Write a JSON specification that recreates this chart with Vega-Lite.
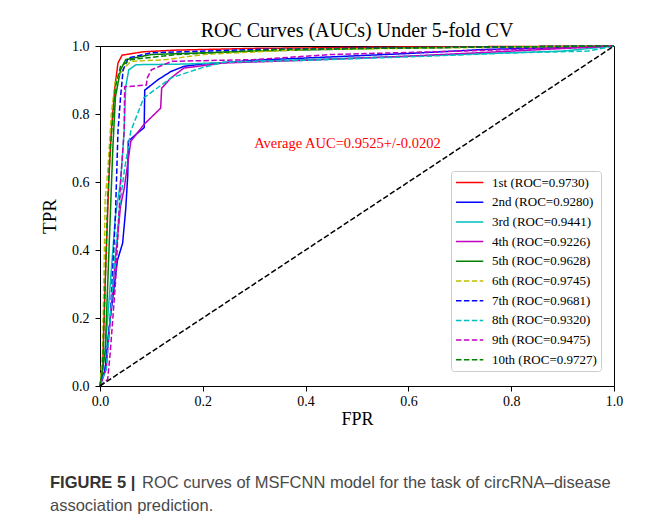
{
  "$schema": "https://vega.github.io/schema/vega-lite/v6.json",
  "padding": {"left": 40, "top": 20, "right": 5, "bottom": 5},
  "background": "white",
  "config": {
    "view": {"stroke": "black", "strokeWidth": 1},
    "font": "Liberation Serif",
    "axis": {"labelFont": "Liberation Serif", "labelFontSize": 14, "labelColor": "black", "titleFont": "Liberation Serif", "titleFontSize": 18, "titleFontWeight": "normal", "titleColor": "black", "domainColor": "black", "tickColor": "black", "grid": false, "tickSize": 5, "labelFlush": false, "labelOverlap": false},
    "legend": {"labelFont": "Liberation Serif", "labelFontSize": 13, "labelColor": "black", "symbolType": "M-1,0H3.2", "symbolSize": 169, "symbolStrokeWidth": 1.5, "labelOffset": 22, "rowPadding": 4.7, "padding": 4, "strokeColor": "#cccccc", "fillColor": "rgba(255,255,255,0.85)", "cornerRadius": 3, "labelLimit": 0}
  },
  "vconcat": [
    {
      "width": 514,
      "height": 340,
      "title": {"text": "ROC Curves (AUCs) Under 5-fold CV", "font": "Liberation Serif", "fontSize": 20, "fontWeight": "normal", "color": "black", "anchor": "middle", "baseline": "alphabetic", "offset": -18},
      "layer": [
        {
          "data": {"values": [
            {"c": "1st (ROC=0.9730)", "i": 0, "x": 0, "y": 0},
            {"c": "1st (ROC=0.9730)", "i": 1, "x": 0.005, "y": 0.05},
            {"c": "1st (ROC=0.9730)", "i": 2, "x": 0.01, "y": 0.3},
            {"c": "1st (ROC=0.9730)", "i": 3, "x": 0.017, "y": 0.6},
            {"c": "1st (ROC=0.9730)", "i": 4, "x": 0.022, "y": 0.75},
            {"c": "1st (ROC=0.9730)", "i": 5, "x": 0.029, "y": 0.88},
            {"c": "1st (ROC=0.9730)", "i": 6, "x": 0.035, "y": 0.95},
            {"c": "1st (ROC=0.9730)", "i": 7, "x": 0.043, "y": 0.973},
            {"c": "1st (ROC=0.9730)", "i": 8, "x": 0.084, "y": 0.983},
            {"c": "1st (ROC=0.9730)", "i": 9, "x": 0.15, "y": 0.988},
            {"c": "1st (ROC=0.9730)", "i": 10, "x": 0.3, "y": 0.993},
            {"c": "1st (ROC=0.9730)", "i": 11, "x": 0.6, "y": 0.997},
            {"c": "1st (ROC=0.9730)", "i": 12, "x": 1, "y": 1},

            {"c": "2nd (ROC=0.9280)", "i": 0, "x": 0, "y": 0},
            {"c": "2nd (ROC=0.9280)", "i": 1, "x": 0.01, "y": 0.05},
            {"c": "2nd (ROC=0.9280)", "i": 2, "x": 0.02, "y": 0.2},
            {"c": "2nd (ROC=0.9280)", "i": 3, "x": 0.034, "y": 0.37},
            {"c": "2nd (ROC=0.9280)", "i": 4, "x": 0.044, "y": 0.42},
            {"c": "2nd (ROC=0.9280)", "i": 5, "x": 0.05, "y": 0.52},
            {"c": "2nd (ROC=0.9280)", "i": 6, "x": 0.054, "y": 0.62},
            {"c": "2nd (ROC=0.9280)", "i": 7, "x": 0.055, "y": 0.72},
            {"c": "2nd (ROC=0.9280)", "i": 8, "x": 0.07, "y": 0.74},
            {"c": "2nd (ROC=0.9280)", "i": 9, "x": 0.086, "y": 0.76},
            {"c": "2nd (ROC=0.9280)", "i": 10, "x": 0.087, "y": 0.87},
            {"c": "2nd (ROC=0.9280)", "i": 11, "x": 0.112, "y": 0.9},
            {"c": "2nd (ROC=0.9280)", "i": 12, "x": 0.138, "y": 0.925},
            {"c": "2nd (ROC=0.9280)", "i": 13, "x": 0.163, "y": 0.94},
            {"c": "2nd (ROC=0.9280)", "i": 14, "x": 0.2, "y": 0.947},
            {"c": "2nd (ROC=0.9280)", "i": 15, "x": 0.3, "y": 0.958},
            {"c": "2nd (ROC=0.9280)", "i": 16, "x": 0.45, "y": 0.968},
            {"c": "2nd (ROC=0.9280)", "i": 17, "x": 0.6, "y": 0.978},
            {"c": "2nd (ROC=0.9280)", "i": 18, "x": 0.75, "y": 0.99},
            {"c": "2nd (ROC=0.9280)", "i": 19, "x": 0.9, "y": 0.995},
            {"c": "2nd (ROC=0.9280)", "i": 20, "x": 1, "y": 1},

            {"c": "3rd (ROC=0.9441)", "i": 0, "x": 0, "y": 0},
            {"c": "3rd (ROC=0.9441)", "i": 1, "x": 0.01, "y": 0.1},
            {"c": "3rd (ROC=0.9441)", "i": 2, "x": 0.02, "y": 0.3},
            {"c": "3rd (ROC=0.9441)", "i": 3, "x": 0.03, "y": 0.5},
            {"c": "3rd (ROC=0.9441)", "i": 4, "x": 0.04, "y": 0.6},
            {"c": "3rd (ROC=0.9441)", "i": 5, "x": 0.047, "y": 0.75},
            {"c": "3rd (ROC=0.9441)", "i": 6, "x": 0.05, "y": 0.88},
            {"c": "3rd (ROC=0.9441)", "i": 7, "x": 0.056, "y": 0.93},
            {"c": "3rd (ROC=0.9441)", "i": 8, "x": 0.07, "y": 0.945},
            {"c": "3rd (ROC=0.9441)", "i": 9, "x": 0.17, "y": 0.947},
            {"c": "3rd (ROC=0.9441)", "i": 10, "x": 0.3, "y": 0.955},
            {"c": "3rd (ROC=0.9441)", "i": 11, "x": 0.5, "y": 0.965},
            {"c": "3rd (ROC=0.9441)", "i": 12, "x": 0.7, "y": 0.975},
            {"c": "3rd (ROC=0.9441)", "i": 13, "x": 0.9, "y": 0.985},
            {"c": "3rd (ROC=0.9441)", "i": 14, "x": 1, "y": 1},

            {"c": "4th (ROC=0.9226)", "i": 0, "x": 0, "y": 0},
            {"c": "4th (ROC=0.9226)", "i": 1, "x": 0.012, "y": 0.05},
            {"c": "4th (ROC=0.9226)", "i": 2, "x": 0.02, "y": 0.2},
            {"c": "4th (ROC=0.9226)", "i": 3, "x": 0.031, "y": 0.39},
            {"c": "4th (ROC=0.9226)", "i": 4, "x": 0.04, "y": 0.53},
            {"c": "4th (ROC=0.9226)", "i": 5, "x": 0.047, "y": 0.58},
            {"c": "4th (ROC=0.9226)", "i": 6, "x": 0.06, "y": 0.72},
            {"c": "4th (ROC=0.9226)", "i": 7, "x": 0.086, "y": 0.77},
            {"c": "4th (ROC=0.9226)", "i": 8, "x": 0.118, "y": 0.817},
            {"c": "4th (ROC=0.9226)", "i": 9, "x": 0.12, "y": 0.876},
            {"c": "4th (ROC=0.9226)", "i": 10, "x": 0.138, "y": 0.906},
            {"c": "4th (ROC=0.9226)", "i": 11, "x": 0.163, "y": 0.935},
            {"c": "4th (ROC=0.9226)", "i": 12, "x": 0.24, "y": 0.95},
            {"c": "4th (ROC=0.9226)", "i": 13, "x": 0.4, "y": 0.958},
            {"c": "4th (ROC=0.9226)", "i": 14, "x": 0.6, "y": 0.97},
            {"c": "4th (ROC=0.9226)", "i": 15, "x": 0.8, "y": 0.985},
            {"c": "4th (ROC=0.9226)", "i": 16, "x": 1, "y": 1},

            {"c": "5th (ROC=0.9628)", "i": 0, "x": 0, "y": 0},
            {"c": "5th (ROC=0.9628)", "i": 1, "x": 0.01, "y": 0.1},
            {"c": "5th (ROC=0.9628)", "i": 2, "x": 0.015, "y": 0.3},
            {"c": "5th (ROC=0.9628)", "i": 3, "x": 0.02, "y": 0.5},
            {"c": "5th (ROC=0.9628)", "i": 4, "x": 0.025, "y": 0.7},
            {"c": "5th (ROC=0.9628)", "i": 5, "x": 0.03, "y": 0.85},
            {"c": "5th (ROC=0.9628)", "i": 6, "x": 0.04, "y": 0.93},
            {"c": "5th (ROC=0.9628)", "i": 7, "x": 0.05, "y": 0.96},
            {"c": "5th (ROC=0.9628)", "i": 8, "x": 0.1, "y": 0.975},
            {"c": "5th (ROC=0.9628)", "i": 9, "x": 0.3, "y": 0.985},
            {"c": "5th (ROC=0.9628)", "i": 10, "x": 0.6, "y": 0.995},
            {"c": "5th (ROC=0.9628)", "i": 11, "x": 1, "y": 1},

            {"c": "6th (ROC=0.9745)", "i": 0, "x": 0, "y": 0},
            {"c": "6th (ROC=0.9745)", "i": 1, "x": 0.005, "y": 0.1},
            {"c": "6th (ROC=0.9745)", "i": 2, "x": 0.008, "y": 0.35},
            {"c": "6th (ROC=0.9745)", "i": 3, "x": 0.01, "y": 0.55},
            {"c": "6th (ROC=0.9745)", "i": 4, "x": 0.015, "y": 0.63},
            {"c": "6th (ROC=0.9745)", "i": 5, "x": 0.022, "y": 0.8},
            {"c": "6th (ROC=0.9745)", "i": 6, "x": 0.03, "y": 0.9},
            {"c": "6th (ROC=0.9745)", "i": 7, "x": 0.05, "y": 0.94},
            {"c": "6th (ROC=0.9745)", "i": 8, "x": 0.06, "y": 0.955},
            {"c": "6th (ROC=0.9745)", "i": 9, "x": 0.13, "y": 0.96},
            {"c": "6th (ROC=0.9745)", "i": 10, "x": 0.2, "y": 0.975},
            {"c": "6th (ROC=0.9745)", "i": 11, "x": 0.4, "y": 0.99},
            {"c": "6th (ROC=0.9745)", "i": 12, "x": 1, "y": 1},

            {"c": "7th (ROC=0.9681)", "i": 0, "x": 0, "y": 0},
            {"c": "7th (ROC=0.9681)", "i": 1, "x": 0.01, "y": 0.05},
            {"c": "7th (ROC=0.9681)", "i": 2, "x": 0.02, "y": 0.2},
            {"c": "7th (ROC=0.9681)", "i": 3, "x": 0.03, "y": 0.5},
            {"c": "7th (ROC=0.9681)", "i": 4, "x": 0.035, "y": 0.75},
            {"c": "7th (ROC=0.9681)", "i": 5, "x": 0.04, "y": 0.85},
            {"c": "7th (ROC=0.9681)", "i": 6, "x": 0.045, "y": 0.93},
            {"c": "7th (ROC=0.9681)", "i": 7, "x": 0.055, "y": 0.965},
            {"c": "7th (ROC=0.9681)", "i": 8, "x": 0.1, "y": 0.98},
            {"c": "7th (ROC=0.9681)", "i": 9, "x": 0.3, "y": 0.99},
            {"c": "7th (ROC=0.9681)", "i": 10, "x": 0.6, "y": 0.995},
            {"c": "7th (ROC=0.9681)", "i": 11, "x": 1, "y": 1},

            {"c": "8th (ROC=0.9320)", "i": 0, "x": 0, "y": 0},
            {"c": "8th (ROC=0.9320)", "i": 1, "x": 0.012, "y": 0.05},
            {"c": "8th (ROC=0.9320)", "i": 2, "x": 0.02, "y": 0.2},
            {"c": "8th (ROC=0.9320)", "i": 3, "x": 0.03, "y": 0.4},
            {"c": "8th (ROC=0.9320)", "i": 4, "x": 0.04, "y": 0.55},
            {"c": "8th (ROC=0.9320)", "i": 5, "x": 0.047, "y": 0.63},
            {"c": "8th (ROC=0.9320)", "i": 6, "x": 0.06, "y": 0.75},
            {"c": "8th (ROC=0.9320)", "i": 7, "x": 0.085, "y": 0.847},
            {"c": "8th (ROC=0.9320)", "i": 8, "x": 0.138, "y": 0.906},
            {"c": "8th (ROC=0.9320)", "i": 9, "x": 0.196, "y": 0.935},
            {"c": "8th (ROC=0.9320)", "i": 10, "x": 0.24, "y": 0.952},
            {"c": "8th (ROC=0.9320)", "i": 11, "x": 0.4, "y": 0.958},
            {"c": "8th (ROC=0.9320)", "i": 12, "x": 0.6, "y": 0.968},
            {"c": "8th (ROC=0.9320)", "i": 13, "x": 0.8, "y": 0.98},
            {"c": "8th (ROC=0.9320)", "i": 14, "x": 0.95, "y": 0.985},
            {"c": "8th (ROC=0.9320)", "i": 15, "x": 1, "y": 1},

            {"c": "9th (ROC=0.9475)", "i": 0, "x": 0, "y": 0},
            {"c": "9th (ROC=0.9475)", "i": 1, "x": 0.015, "y": 0.02},
            {"c": "9th (ROC=0.9475)", "i": 2, "x": 0.02, "y": 0.1},
            {"c": "9th (ROC=0.9475)", "i": 3, "x": 0.03, "y": 0.3},
            {"c": "9th (ROC=0.9475)", "i": 4, "x": 0.04, "y": 0.6},
            {"c": "9th (ROC=0.9475)", "i": 5, "x": 0.047, "y": 0.75},
            {"c": "9th (ROC=0.9475)", "i": 6, "x": 0.048, "y": 0.88},
            {"c": "9th (ROC=0.9475)", "i": 7, "x": 0.09, "y": 0.885},
            {"c": "9th (ROC=0.9475)", "i": 8, "x": 0.092, "y": 0.906},
            {"c": "9th (ROC=0.9475)", "i": 9, "x": 0.1, "y": 0.93},
            {"c": "9th (ROC=0.9475)", "i": 10, "x": 0.14, "y": 0.955},
            {"c": "9th (ROC=0.9475)", "i": 11, "x": 0.3, "y": 0.96},
            {"c": "9th (ROC=0.9475)", "i": 12, "x": 0.45, "y": 0.975},
            {"c": "9th (ROC=0.9475)", "i": 13, "x": 0.7, "y": 0.985},
            {"c": "9th (ROC=0.9475)", "i": 14, "x": 1, "y": 1},

            {"c": "10th (ROC=0.9727)", "i": 0, "x": 0, "y": 0},
            {"c": "10th (ROC=0.9727)", "i": 1, "x": 0.005, "y": 0.05},
            {"c": "10th (ROC=0.9727)", "i": 2, "x": 0.01, "y": 0.3},
            {"c": "10th (ROC=0.9727)", "i": 3, "x": 0.015, "y": 0.55},
            {"c": "10th (ROC=0.9727)", "i": 4, "x": 0.02, "y": 0.7},
            {"c": "10th (ROC=0.9727)", "i": 5, "x": 0.03, "y": 0.88},
            {"c": "10th (ROC=0.9727)", "i": 6, "x": 0.04, "y": 0.94},
            {"c": "10th (ROC=0.9727)", "i": 7, "x": 0.06, "y": 0.96},
            {"c": "10th (ROC=0.9727)", "i": 8, "x": 0.15, "y": 0.975},
            {"c": "10th (ROC=0.9727)", "i": 9, "x": 0.35, "y": 0.99},
            {"c": "10th (ROC=0.9727)", "i": 10, "x": 0.7, "y": 0.996},
            {"c": "10th (ROC=0.9727)", "i": 11, "x": 1, "y": 1}
          ]},
          "mark": {"type": "line", "strokeWidth": 1.5},
          "encoding": {
            "x": {"field": "x", "type": "quantitative", "scale": {"domain": [0, 1], "nice": false}, "axis": {"values": [0, 0.2, 0.4, 0.6, 0.8, 1.0], "format": ".1f", "title": "FPR", "labelPadding": 3, "titlePadding": 2}},
            "y": {"field": "y", "type": "quantitative", "scale": {"domain": [0, 1], "nice": false}, "axis": {"values": [0, 0.2, 0.4, 0.6, 0.8, 1.0], "format": ".1f", "title": "TPR", "labelPadding": 6, "titlePadding": 12, "titleFontSize": 19}},
            "color": {"field": "c", "type": "nominal", "title": null,
              "scale": {"domain": ["1st (ROC=0.9730)", "2nd (ROC=0.9280)", "3rd (ROC=0.9441)", "4th (ROC=0.9226)", "5th (ROC=0.9628)", "6th (ROC=0.9745)", "7th (ROC=0.9681)", "8th (ROC=0.9320)", "9th (ROC=0.9475)", "10th (ROC=0.9727)"],
                        "range": ["#ff0000", "#0000ff", "#00bfbf", "#bf00bf", "#008000", "#bfbf00", "#0000ff", "#00bfbf", "#bf00bf", "#008000"]},
              "legend": {"orient": "none", "legendX": 351, "legendY": 125}},
            "strokeDash": {"field": "c", "type": "nominal", "title": null,
              "scale": {"domain": ["1st (ROC=0.9730)", "2nd (ROC=0.9280)", "3rd (ROC=0.9441)", "4th (ROC=0.9226)", "5th (ROC=0.9628)", "6th (ROC=0.9745)", "7th (ROC=0.9681)", "8th (ROC=0.9320)", "9th (ROC=0.9475)", "10th (ROC=0.9727)"],
                        "range": [[1, 0], [1, 0], [1, 0], [1, 0], [1, 0], [5.5, 2.4], [5.5, 2.4], [5.5, 2.4], [5.5, 2.4], [5.5, 2.4]]},
              "legend": {"orient": "none", "legendX": 351, "legendY": 125}},
            "order": {"field": "i", "type": "quantitative"}
          }
        },
        {
          "data": {"values": [{"x": 0, "y": 0}, {"x": 1, "y": 1}]},
          "mark": {"type": "line", "color": "black", "strokeDash": [5.5, 2.4], "strokeWidth": 1.5},
          "encoding": {"x": {"field": "x", "type": "quantitative"}, "y": {"field": "y", "type": "quantitative"}}
        },
        {
          "data": {"values": [{"x": 0.3, "y": 0.701, "t": "Average AUC=0.9525+/-0.0202"}]},
          "mark": {"type": "text", "align": "left", "baseline": "alphabetic", "color": "#ff0000", "font": "Liberation Serif", "fontSize": 14.5},
          "encoding": {"x": {"field": "x", "type": "quantitative"}, "y": {"field": "y", "type": "quantitative"}, "text": {"field": "t"}}
        }
      ]
    },
    {
      "width": 514,
      "height": 46,
      "view": {"stroke": null},
      "layer": [
        {
          "data": {"values": [{"line": 1, "t": "FIGURE 5 |"}]},
          "mark": {"type": "text", "align": "left", "baseline": "middle", "font": "Liberation Sans", "fontSize": 16.5, "fontWeight": "bold", "color": "#333333", "dx": -50},
          "encoding": {"x": {"value": 0}, "y": {"field": "line", "type": "ordinal", "axis": null, "scale": {"domain": [1, 2]}}, "text": {"field": "t"}}
        },
        {
          "data": {"values": [{"line": 1, "t": "ROC curves of MSFCNN model for the task of circRNA\u2013disease"}]},
          "mark": {"type": "text", "align": "left", "baseline": "middle", "font": "Liberation Sans", "fontSize": 16.5, "color": "#4a4a4a", "dx": 42},
          "encoding": {"x": {"value": 0}, "y": {"field": "line", "type": "ordinal", "axis": null, "scale": {"domain": [1, 2]}}, "text": {"field": "t"}}
        },
        {
          "data": {"values": [{"line": 2, "t": "association prediction."}]},
          "mark": {"type": "text", "align": "left", "baseline": "middle", "font": "Liberation Sans", "fontSize": 16.5, "color": "#4a4a4a", "dx": -50},
          "encoding": {"x": {"value": 0}, "y": {"field": "line", "type": "ordinal", "axis": null, "scale": {"domain": [1, 2]}}, "text": {"field": "t"}}
        }
      ]
    }
  ],
  "spacing": 42
}
